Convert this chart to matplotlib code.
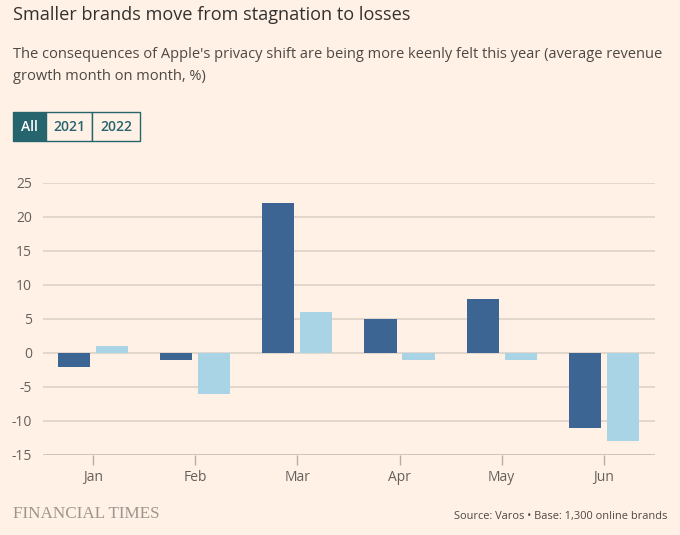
import matplotlib.pyplot as plt
import numpy as np
from matplotlib.patches import Rectangle

months = ["Jan", "Feb", "Mar", "Apr", "May", "Jun"]
y2021 = [-2, -1, 22, 5, 8, -11]
y2022 = [1, -6, 6, -1, -1, -13]
yticks = [25, 20, 15, 10, 5, 0, -5, -10, -15]

bg = "#FFF1E5"
dark = "#3D6594"
light = "#A8D4E6"
grid = "#DDD2C8"
teal = "#26646E"

plt.rcParams['font.family'] = ['Open Sans', 'DejaVu Sans']

fig = plt.figure(figsize=(6.8, 5.35), dpi=100, facecolor=bg)
ax = fig.add_axes([43/680, 1 - 455/535, 612/680, 272/535])
ax.set_facecolor(bg)

x = np.arange(len(months))
w = 0.315
ax.bar(x - 0.186, y2021, w, color=dark, zorder=3)
ax.bar(x + 0.186, y2022, w, color=light, zorder=3)

ax.set_xlim(-0.49, 5.5)
ax.set_ylim(-15, 25)
ax.set_yticks(yticks)
ax.set_yticklabels([str(v) for v in yticks])
for v in yticks:
    ax.axhline(v, color="#C9BDB3" if v == -15 else grid, lw=1.2, zorder=1)

ax.set_xticks(x)
ax.set_xticklabels(months)
for s in ax.spines.values():
    s.set_visible(False)
ax.tick_params(axis="y", length=0, pad=8, labelsize=10, labelcolor="#66605C")
ax.tick_params(axis="x", length=7, width=1, color="#B8ADA4", pad=4,
               labelsize=10, labelcolor="#66605C")

fig.text(13/680, 1 - 15/535, "Smaller brands move from stagnation to losses",
         fontsize=13.1, color="#33302E", va="center", ha="left")
fig.text(13/680, 1 - 55/535,
         "The consequences of Apple's privacy shift are being more keenly felt this year (average revenue",
         fontsize=10.5, color="#4D4845", va="center", ha="left")
fig.text(13/680, 1 - 76/535, "growth month on month, %)",
         fontsize=10.5, color="#4D4845", va="center", ha="left")

# buttons
buttons = [("All", 13, 46), ("2021", 46, 92), ("2022", 92, 140)]
for i, (lab, x0, x1) in enumerate(buttons):
    r = Rectangle((x0/680, 1 - 141/535), (x1 - x0)/680, 29/535,
                  transform=fig.transFigure, facecolor=teal if i == 0 else bg,
                  edgecolor=teal, lw=1)
    fig.patches.append(r)
    fig.text((x0 + x1)/2/680, 1 - 127/535, lab, fontsize=10,
             color="white" if i == 0 else teal, ha="center", va="center",
             weight="semibold")

fig.text(13/680, 1 - 514/535, "FINANCIAL TIMES", fontsize=12.3,
         family=["Liberation Serif", "DejaVu Serif"], color="#9E958D",
         va="center", ha="left")
fig.text(667/680, 1 - 516/535, "Source: Varos \u2022 Base: 1,300 online brands",
         fontsize=7.9, color="#4D4845", va="center", ha="right")

fig.savefig("out.png", dpi=100, facecolor=bg)
